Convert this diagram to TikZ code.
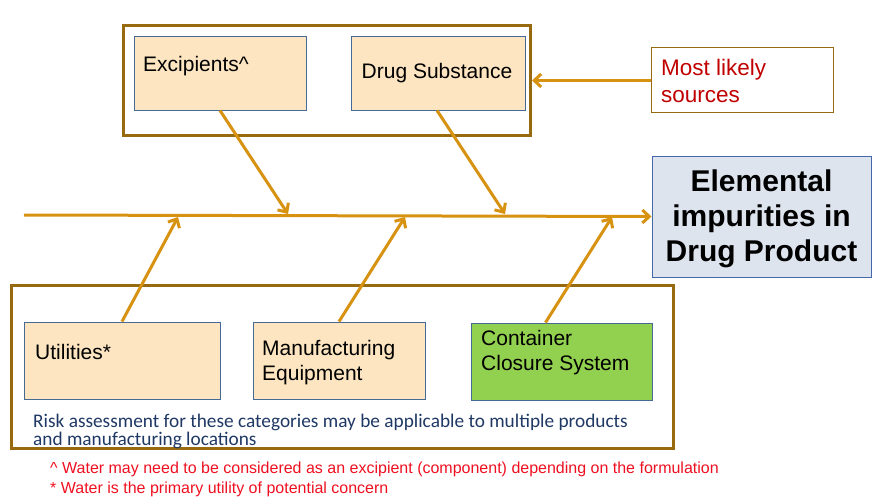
\documentclass[tikz,border=0pt]{standalone}
\usepackage{fontspec}
\setmainfont{Liberation Sans}
\newfontfamily\riskfont{Carlito}
\usetikzlibrary{arrows.meta}
\definecolor{brownbox}{RGB}{152,106,16}
\definecolor{arrowor}{RGB}{214,146,16}
\definecolor{peach}{RGB}{252,229,192}
\definecolor{boxblue}{RGB}{70,106,150}
\definecolor{elfill}{RGB}{221,228,238}
\definecolor{elborder}{RGB}{68,104,170}
\definecolor{ccgreen}{RGB}{146,208,80}
\definecolor{mlsred}{RGB}{192,0,0}
\definecolor{noteRed}{RGB}{238,16,32}
\definecolor{riskblue}{RGB}{31,56,100}
\tikzset{
  groupbox/.style={draw=brownbox, line width=3pt, inner sep=0pt},
  catbox/.style={draw=boxblue, line width=0.9pt, fill=peach, inner sep=0pt},
  fishbone/.style={draw=arrowor, line width=3pt, -{Straight Barb[length=7pt,width=13pt,line width=3pt]}},
  boxtext/.style={font=\fontsize{21}{25}\selectfont, align=left, inner sep=0pt, anchor=west},
}
\begin{document}
\begin{tikzpicture}[x=1pt,y=-1pt]
\useasboundingbox (0,0) rectangle (883,500);
% group boxes
\node[groupbox, minimum width=407pt, minimum height=110pt] (topgrp) at (327,80.5) {};
\node[groupbox, minimum width=662pt, minimum height=163pt] (botgrp) at (342.5,367) {};
% top categories
\node[catbox, minimum width=172pt, minimum height=74pt] (exc) at (220,73) {};
\node[boxtext] (exct) at (143,66) {Excipients\^{}};
\node[catbox, minimum width=174pt, minimum height=74pt] (ds) at (438,73) {};
\node[boxtext, anchor=center] (dst) at (437,73) {Drug Substance};
% most likely sources
\node[draw=brownbox, line width=1pt, inner sep=0pt, minimum width=182pt, minimum height=65pt] (mls) at (742,80.5) {};
\node[boxtext, text=mlsred, font=\fontsize{22.5}{27}\selectfont] (mlst) at (661,80.5) {Most likely\\sources};
% effect box
\node[draw=elborder, line width=1pt, fill=elfill, minimum width=219pt, minimum height=121pt, inner sep=0pt] (eff) at (761.5,216.5) {};
\node[inner sep=0pt, font=\bfseries\fontsize{30}{35}\selectfont, align=center] (efft) at (761.5,219) {Elemental\\impurities in\\Drug Product};
% bottom categories
\node[catbox, minimum width=196pt, minimum height=77pt] (ut) at (122,360.5) {};
\node[boxtext] (utt) at (35,352) {Utilities*};
\node[catbox, minimum width=172pt, minimum height=77pt] (mf) at (339,360.5) {};
\node[boxtext] (mft) at (262,362.5) {Manufacturing\\Equipment};
\node[catbox, fill=ccgreen, minimum width=181pt, minimum height=77pt] (cc) at (561.5,361.5) {};
\node[boxtext] (cct) at (481,352.5) {Container\\Closure System};
% risk note
\node[anchor=west, inner sep=0pt, align=left, text=riskblue, font=\riskfont\fontsize{19.3}{18}\selectfont] (risk) at (33,431) {Risk assessment for these categories may be applicable to multiple products\\and manufacturing locations};
% footnotes
\node[anchor=west, inner sep=0pt, align=left, text=noteRed, font=\fontsize{16}{20}\selectfont] (notes) at (50,479) {\^{} Water may need to be considered as an excipient (component) depending on the formulation\\* Water is the primary utility of potential concern};
% spine and bones
\coordinate (spinestart) at (24,215);
\coordinate (b1) at (288,214);
\coordinate (b2) at (505,214);
\coordinate (b3) at (178,217);
\coordinate (b4) at (405,217);
\coordinate (b5) at (612,217);
\draw[fishbone] (spinestart) -- (eff.west);
\draw[fishbone] (exc.south) -- (b1);
\draw[fishbone] ([xshift=-1pt]ds.south) -- (b2);
\draw[fishbone] (ut.north) -- (b3);
\draw[fishbone] (mf.north) -- (b4);
\draw[fishbone] ([xshift=-16pt]cc.north) -- (b5);
\draw[fishbone] (mls.west) -- (topgrp.east);
\end{tikzpicture}
\end{document}
